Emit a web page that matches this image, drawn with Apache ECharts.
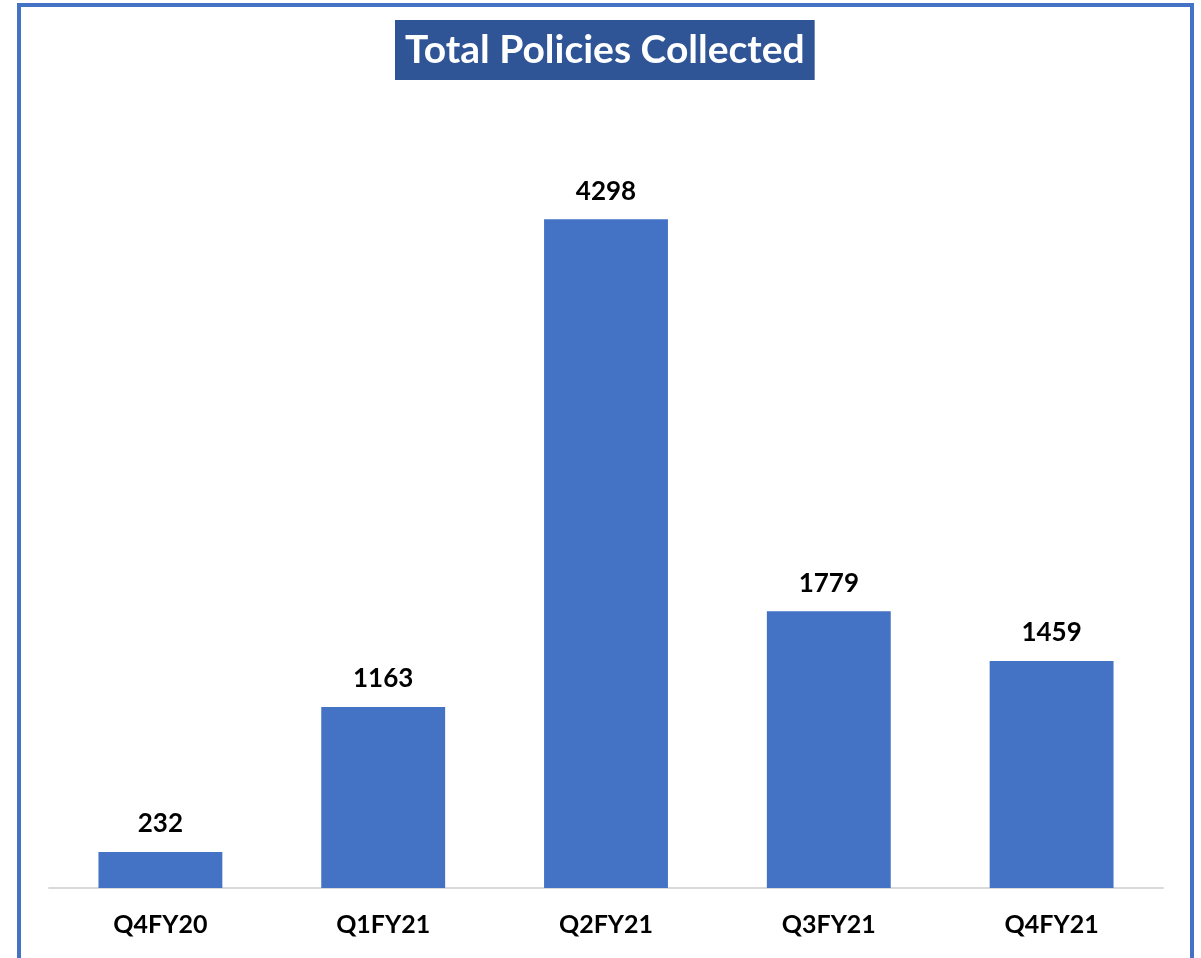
<!DOCTYPE html>
<html>
<head>
<meta charset="utf-8">
<script src="https://cdn.jsdelivr.net/npm/echarts@6/dist/echarts.min.js"></script>
<style>
  html, body { margin: 0; padding: 0; background: #fff; }
  #main { width: 1201px; height: 958px; }
</style>
</head>
<body>
<div id="main"></div>
<script>
  var categories = ['Q4FY20', 'Q1FY21', 'Q2FY21', 'Q3FY21', 'Q4FY21'];
  var policies = [232, 1163, 4298, 1779, 1459];
  var titleText = 'Total Policies Collected';

  var font = 'Lato, "Open Sans", sans-serif';
  var chart = echarts.init(document.getElementById('main'));
  var option = {
    backgroundColor: '#fff',
    animation: false,
    title: {
      text: titleText,
      left: 395,
      top: 20,
      backgroundColor: '#2F5597',
      padding: [9, 10, 9, 10],
      textStyle: {
        color: '#fff',
        fontSize: 39,
        lineHeight: 42,
        fontWeight: 'bold',
        fontFamily: font
      }
    },
    // outer frame of the chart area
    graphic: [{
      type: 'rect',
      shape: { x: 19, y: 5, width: 1173, height: 1000 },
      style: { fill: 'none', stroke: '#4472C4', lineWidth: 4 },
      z: 10
    }],
    grid: { left: 49, right: 38, top: 110, bottom: 70 },
    xAxis: {
      type: 'category',
      data: categories,
      axisLine: { lineStyle: { color: '#D9D9D9', width: 2 } },
      axisTick: { show: false },
      axisLabel: {
        color: '#000',
        fontSize: 25,
        fontWeight: 'bold',
        fontFamily: font,
        margin: 24
      }
    },
    yAxis: {
      type: 'value',
      min: 0,
      max: 5000,
      show: false,
      splitLine: { show: false }
    },
    series: [{
      type: 'bar',
      data: policies,
      barWidth: '55.6%',
      itemStyle: { color: '#4472C4' },
      label: {
        show: true,
        position: 'top',
        distance: 15,
        color: '#000',
        fontSize: 26,
        fontWeight: 'bold',
        fontFamily: font
      }
    }]
  };
  chart.setOption(option);
</script>
</body>
</html>
